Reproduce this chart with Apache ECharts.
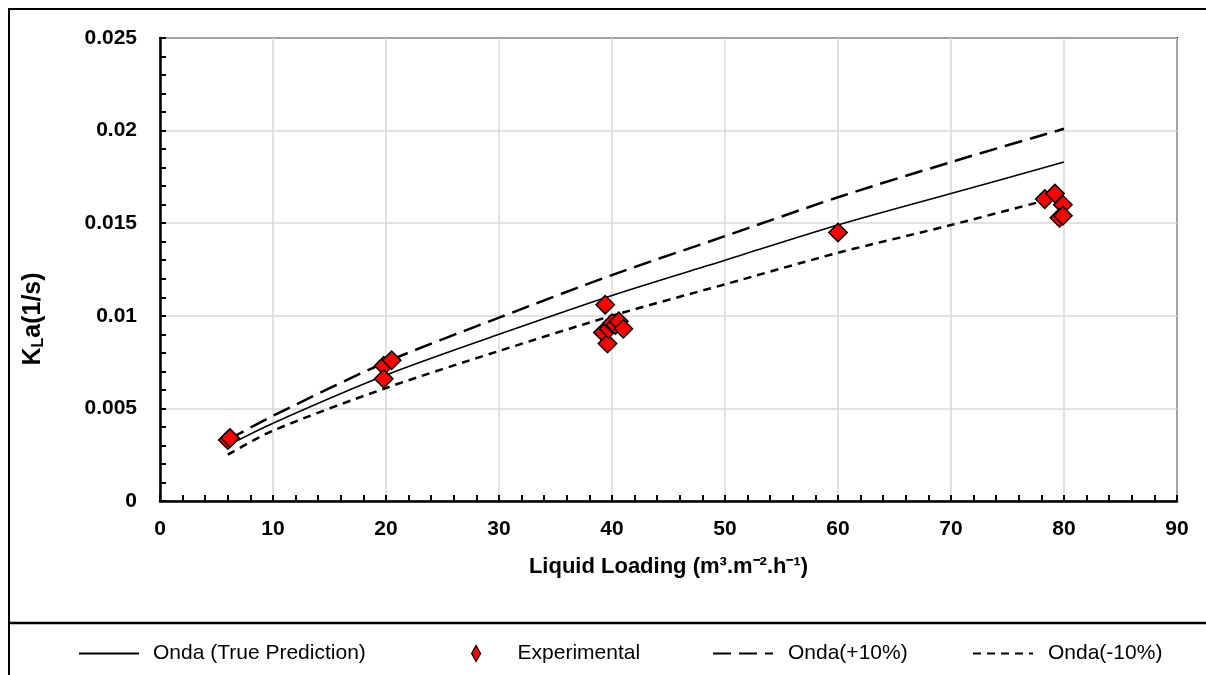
<!DOCTYPE html>
<html lang="en">
<head>
    <meta charset="UTF-8">
    <title>KLa vs Liquid Loading</title>
    <script src="https://cdn.jsdelivr.net/npm/echarts@6/dist/echarts.min.js"></script>
    <style>
        html, body { margin: 0; padding: 0; background: #fff; }
        #chart { width: 1206px; height: 675px; }
    </style>
</head>
<body>
<div id="chart"></div>
<script>
    /*model curves*/
    var onda_x    = [6, 10, 20, 30, 40, 50, 60, 70, 80];
    var onda_true = [0.0030, 0.0042, 0.0068, 0.0090, 0.0111, 0.0130, 0.0149, 0.0166, 0.0183];
    var onda_plus = [0.0033, 0.0046, 0.0075, 0.0099, 0.0122, 0.0143, 0.0164, 0.0183, 0.0201];
    var onda_minus = [0.0025, 0.0038, 0.0061, 0.0081, 0.0100, 0.0117, 0.0134, 0.0149, 0.0165];

    /*experimental points*/
    var exp_x = [6.0, 6.2, 19.8, 20.5, 19.8, 39.4, 39.2, 39.6, 39.7, 40.0, 40.3, 40.6, 41.0, 60.0, 78.3, 79.2, 79.9, 79.6, 79.9];
    var exp_y = [0.0033, 0.0034, 0.0073, 0.0076, 0.0066, 0.0106, 0.0091, 0.0085, 0.0093, 0.0096, 0.0095, 0.0097, 0.0093, 0.0145, 0.0163, 0.0166, 0.0160, 0.0153, 0.0154];

    var y_ticks = ['0', '0.005', '0.01', '0.015', '0.02', '0.025'];

    function pairs(xs, ys){
        var out = [];
        for (var i = 0; i < xs.length; i++) out.push([xs[i], ys[i]]);
        return out;
    }

    var font = '"Liberation Sans", Arial, sans-serif';
    var legendText = { fontFamily: font, fontSize: 21, color: '#000' };

    function legendAt(item, left, w, h, pad){
        return {
            data: [item], left: left, top: 643, itemWidth: w, itemHeight: h,
            padding: 0, selectedMode: false,
            itemStyle: { opacity: 0 },
            textStyle: Object.assign({ padding: [0, 0, 0, pad] }, legendText)
        };
    }
    var expLegend = legendAt({ name: 'Experimental', icon: 'diamond' }, 471, 9, 16, 32);
    expLegend.itemStyle = { color: '#ff0000', borderColor: '#000', borderWidth: 1.2 };

    var option = {
        animation: false,
        backgroundColor: '#fff',
        grid: {
            left: 160, right: 29, top: 38, bottom: 174,
            show: true, borderColor: '#000', borderWidth: 2
        },
        legend: [
            legendAt('Onda (True Prediction)', 78, 60, 14, 9),
            expLegend,
            legendAt('Onda(+10%)', 712, 60, 14, 10),
            legendAt('Onda(-10%)', 972, 60, 14, 10)
        ],
        graphic: [
            { type: 'rect', shape: { x: 9, y: 9, width: 1400, height: 900 },
              style: { fill: 'none', stroke: '#000', lineWidth: 2 }, silent: true, z: -1 },
            { type: 'line', shape: { x1: 9, y1: 623, x2: 1206, y2: 623 },
              style: { stroke: '#000', lineWidth: 2.5 }, silent: true },
            { type: 'text', x: 33, y: 319, rotation: Math.PI / 2,
              style: {
                  text: '{b|K}{s|L}{b|a(1/s)}',
                  align: 'center', verticalAlign: 'middle',
                  rich: {
                      b: { fontFamily: font, fontSize: 25, fontWeight: 'bold', fill: '#000' },
                      s: { fontFamily: font, fontSize: 16, fontWeight: 'bold', fill: '#000', padding: [12, 0, 0, 0] }
                  }
              } }
        ],
        xAxis: {
            type: 'value', min: 0, max: 90, interval: 10,
            name: 'Liquid Loading (m³.m⁻².h⁻¹)',
            nameLocation: 'middle', nameGap: 55,
            nameTextStyle: { fontFamily: font, fontSize: 22, fontWeight: 'bold', color: '#000' },
            axisLine: { lineStyle: { color: '#000', width: 2.5 } },
            axisTick: { inside: true, length: 6, lineStyle: { color: '#000', width: 2 } },
            minorTick: { show: true, splitNumber: 5, length: 6, lineStyle: { color: '#000', width: 2 } },
            splitLine: { show: true, lineStyle: { color: '#d9d9d9', width: 1.5 } },
            axisLabel: { fontFamily: font, fontSize: 21, fontWeight: 'bold', color: '#000', margin: 18 }
        },
        yAxis: {
            type: 'value', min: 0, max: 0.025, interval: 0.005,
            axisLine: { show: true, lineStyle: { color: '#000', width: 2.5 } },
            axisTick: { show: true, inside: true, length: 6, lineStyle: { color: '#000', width: 2 } },
            minorTick: { show: true, splitNumber: 5, length: 6, lineStyle: { color: '#000', width: 2 } },
            splitLine: { show: true, lineStyle: { color: '#d9d9d9', width: 1.5 } },
            axisLabel: {
                fontFamily: font, fontSize: 21, fontWeight: 'bold', color: '#000', margin: 23,
                formatter: function (v){ return y_ticks[Math.round(v / 0.005)]; }
            }
        },
        series: [
            {
                name: 'Onda (True Prediction)', type: 'line', smooth: 0.3, symbol: 'none',
                data: pairs(onda_x, onda_true),
                lineStyle: { color: '#000', width: 1.5, type: 'solid' },
                itemStyle: { color: '#000' }, z: 3
            },
            {
                name: 'Experimental', type: 'scatter', symbol: 'rect', symbolSize: 13, symbolRotate: 45,
                data: pairs(exp_x, exp_y),
                itemStyle: { color: '#ff0000', opacity: 1, borderColor: '#000', borderWidth: 1.5 }, z: 5
            },
            {
                name: 'Onda(+10%)', type: 'line', smooth: 0.3, symbol: 'none',
                data: pairs(onda_x, onda_plus),
                lineStyle: { color: '#000', width: 2.5, type: [18, 8] },
                itemStyle: { color: '#000' }, z: 3
            },
            {
                name: 'Onda(-10%)', type: 'line', smooth: 0.3, symbol: 'none',
                data: pairs(onda_x, onda_minus),
                lineStyle: { color: '#000', width: 2.5, type: [8, 6] },
                itemStyle: { color: '#000' }, z: 3
            }
        ]
    };
    var chart = echarts.init(document.getElementById('chart'));
    chart.setOption(option);
</script>
</body>
</html>
